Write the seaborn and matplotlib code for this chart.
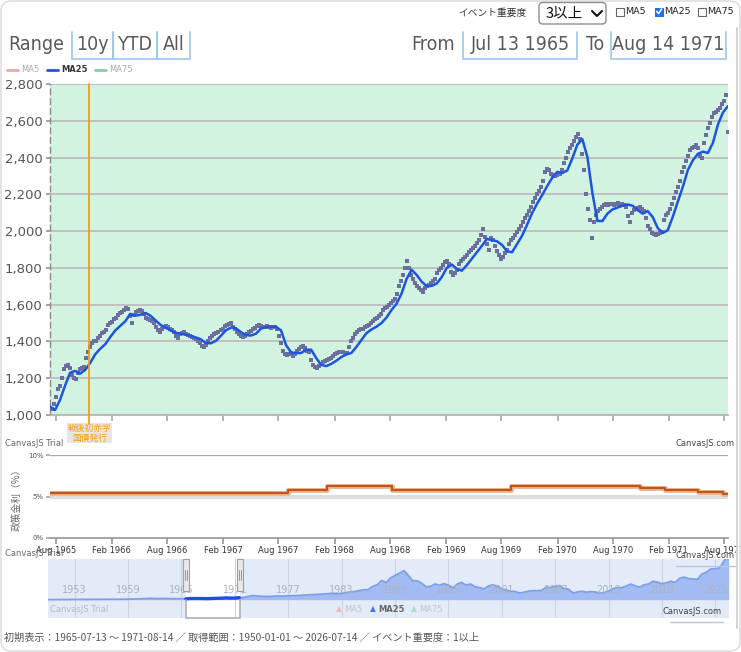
import numpy as np
import pandas as pd
import matplotlib
matplotlib.use("Agg")
import matplotlib.pyplot as plt
import matplotlib.dates as mdates
from matplotlib.patches import FancyBboxPatch, Rectangle
from matplotlib import font_manager as fm
import seaborn as sns

# ---------------- data ----------------
view_start = "1965-07-13"
view_end = "1971-08-14"
nav_start = "1950-01-01"
nav_end = "2026-07-14"

# daily close (read at ~6.5 day spacing)
price = [
    1040, 1035, 1060, 1100, 1140, 1160, 1200, 1250, 1265, 1270, 1255, 1220, 1200, 1195, 1230, 1250, 1255, 1260,
    1310, 1340, 1370, 1390, 1400, 1405, 1420, 1430, 1445, 1450, 1460, 1490, 1500, 1505, 1520, 1530, 1545, 1555,
    1560, 1570, 1580, 1575, 1540, 1500, 1545, 1560, 1565, 1570, 1565, 1550, 1530, 1520, 1515, 1510, 1500, 1480,
    1460, 1450, 1470, 1480, 1485, 1480, 1470, 1460, 1450, 1430, 1420, 1440, 1445, 1450, 1440, 1435, 1430, 1425,
    1420, 1415, 1400, 1390, 1375, 1370, 1380, 1400, 1420, 1430, 1440, 1445, 1450, 1460, 1470, 1485, 1490, 1495,
    1500, 1480, 1465, 1450, 1440, 1430, 1425, 1430, 1440, 1450, 1455, 1465, 1475, 1485, 1490, 1485, 1480, 1480,
    1485, 1480, 1475, 1480, 1478, 1470, 1430, 1390, 1350, 1330, 1325, 1330, 1335, 1320, 1330, 1350, 1360, 1370,
    1375, 1365, 1350, 1340, 1300, 1270, 1260, 1255, 1265, 1275, 1290, 1295, 1300, 1305, 1310, 1320, 1330, 1335,
    1340, 1345, 1340, 1330, 1335, 1370, 1400, 1420, 1440, 1450, 1460, 1465, 1470, 1480, 1485, 1490, 1500, 1510,
    1520, 1530, 1540, 1550, 1570, 1580, 1590, 1600, 1610, 1620, 1630, 1660, 1700, 1730, 1760, 1800, 1840, 1800,
    1760, 1740, 1720, 1700, 1690, 1680, 1670, 1690, 1700, 1705, 1720, 1730, 1740, 1770, 1790, 1800, 1815, 1830,
    1840, 1820, 1780, 1760, 1770, 1790, 1820, 1840, 1850, 1860, 1870, 1885, 1900, 1910, 1920, 1935, 1950, 1980,
    2010, 1970, 1930, 1900, 1960, 1950, 1920, 1890, 1870, 1850, 1860, 1880, 1900, 1930, 1950, 1960, 1980, 1995,
    2010, 2030, 2050, 2070, 2090, 2110, 2130, 2160, 2180, 2200, 2220, 2240, 2270, 2320, 2340, 2330, 2310, 2305,
    2300, 2305, 2310, 2330, 2370, 2400, 2430, 2450, 2470, 2490, 2510, 2530, 2500, 2420, 2330, 2200, 2120, 2060,
    1960, 2050, 2090, 2110, 2120, 2130, 2140, 2145, 2140, 2150, 2145, 2140, 2150, 2155, 2150, 2145, 2140, 2130,
    2080, 2050, 2100, 2115, 2120, 2125, 2130, 2120, 2110, 2070, 2030, 2010, 1990, 1985, 1980, 1985, 1990, 1995,
    2060, 2090, 2100, 2120, 2150, 2180, 2210, 2240, 2270, 2320, 2350, 2380, 2410, 2440, 2450, 2460, 2470, 2450,
    2410, 2400, 2480, 2520, 2560, 2590, 2620, 2640, 2650, 2660, 2670, 2690, 2710, 2740, 2540,
]

# 25-day moving average (read at ~16.4 day spacing)
ma25 = [
    1045, 1027, 1082, 1160, 1230, 1240, 1225, 1245, 1283, 1330,
    1360, 1385, 1424, 1460, 1485, 1510, 1550, 1540, 1545, 1555,
    1540, 1515, 1490, 1475, 1460, 1448, 1442, 1437, 1430, 1422,
    1412, 1392, 1390, 1403, 1430, 1460, 1475, 1472, 1451, 1435,
    1432, 1442, 1470, 1478, 1480, 1480, 1460, 1380, 1340, 1337,
    1337, 1355, 1355, 1310, 1272, 1266, 1278, 1295, 1315, 1330,
    1337, 1370, 1408, 1445, 1465, 1480, 1500, 1530, 1571, 1605,
    1660, 1740, 1790, 1762, 1725, 1701, 1702, 1715, 1750, 1800,
    1818, 1795, 1785, 1815, 1850, 1885, 1920, 1958, 1950, 1945,
    1925, 1890, 1885, 1930, 1975, 2035, 2098, 2150, 2196, 2245,
    2290, 2322, 2316, 2330, 2395, 2470, 2500, 2403, 2207, 2055,
    2055, 2095, 2118, 2128, 2138, 2145, 2138, 2115, 2095, 2109,
    2077, 2017, 1990, 2005, 2077, 2160, 2240, 2332, 2385, 2420,
    2432, 2425, 2480, 2580, 2645, 2680,
]

# policy rate (official discount rate, %)
rate_dates = ["1965-07-13", "1967-09-01", "1968-01-06", "1968-08-07", "1969-09-01",
              "1970-10-28", "1971-01-20", "1971-05-08", "1971-07-28", "1971-08-14"]
rate_values = [5.48, 5.84, 6.21, 5.84, 6.25, 6.00, 5.75, 5.50, 5.25, 5.25]

# event
event_date = "1965-11-19"
event_label = "戦後初赤字\n国債発行"

# navigator: whole history, half-yearly
nav_values = [
    100, 100, 110, 140, 170, 280, 340, 360, 320, 330,
    360, 380, 430, 480, 520, 520, 500, 580, 680, 830,
    900, 1150, 1400, 1800, 1450, 1400, 1500, 1450, 1250, 1250,
    1200, 1100, 1450, 1500, 1450, 1400, 1300, 1600, 1750, 1950,
    2300, 2050, 2100, 2600, 2800, 4200, 5200, 4700, 4300, 4200,
    4000, 4400, 4800, 4600, 5000, 5100, 5200, 5700, 6000, 6200,
    6600, 7000, 7200, 7700, 7600, 7300, 8200, 8900, 9900, 10400,
    11600, 12700, 13000, 17000, 19000, 24500, 22000, 27800, 31000, 34000,
    37000, 31000, 24000, 24000, 21000, 16500, 17000, 20000, 18500, 20500,
    18500, 15000, 20000, 22000, 18500, 20000, 16500, 15500, 13800, 17500,
    19000, 17000, 13500, 12500, 10500, 10500, 8500, 9500, 10800, 11500,
    11500, 11900, 16000, 15500, 17200, 18000, 14000, 13500, 8500, 9800,
    10700, 9500, 10300, 9800, 8500, 9000, 11000, 14000, 15500, 15300,
    17500, 20000, 17500, 16000, 19000, 20000, 23500, 22300, 20500, 21500,
    23500, 22000, 27500, 28800, 27000, 26500, 26000, 33000, 35000, 39500,
    39500, 40500, 50000, 55000,
]
nav_years = ["1953", "1959", "1965", "1971", "1977", "1983", "1989",
             "1995", "2001", "2007", "2013", "2019", "2025"]

ma_names = ["MA5", "MA25", "MA75"]
ma_colors = ["#f4a3a3", "#1d55e3", "#86d0a4"]
footer = "初期表示：1965-07-13 〜 1971-08-14 ／ 取得範囲：1950-01-01 〜 2026-07-14 ／ イベント重要度：1以上"

# ---------------- frames ----------------
t0, t1 = pd.Timestamp(view_start), pd.Timestamp(view_end)
df_price = pd.DataFrame({"date": pd.date_range(t0, t1, periods=len(price)), "v": price})
df_ma = pd.DataFrame({"date": pd.date_range(t0, t1, periods=len(ma25)), "v": ma25})
df_rate = pd.DataFrame({"date": pd.to_datetime(rate_dates), "v": rate_values})
df_nav = pd.DataFrame({"date": pd.date_range(nav_start, periods=len(nav_values), freq="6MS"), "v": nav_values})

# ---------------- style ----------------
sns.set_theme(style="white")
plt.rcParams["font.family"] = ["DejaVu Sans", "Noto Sans CJK JP"]
JP = ["Noto Sans CJK JP", "DejaVu Sans"]
names = {f.name for f in fm.fontManager.ttflist}
if "Liberation Sans Narrow" in names:
    BIG = dict(family="Liberation Sans Narrow", fontsize=17)
else:
    BIG = dict(family="DejaVu Sans", fontstretch="condensed", fontsize=14)

W, H = 741, 652
fig = plt.figure(figsize=(W / 100, H / 100), dpi=100)
fig.patch.set_facecolor("white")


def rect(x0, y0, x1, y1):
    return [x0 / W, 1 - y1 / H, (x1 - x0) / W, (y1 - y0) / H]


month_loc = mdates.MonthLocator(bymonth=[2, 8])

# ---------------- main chart ----------------
ax = fig.add_axes(rect(50, 84, 728, 415))
ax.set_facecolor("#d2f3e0")
sns.scatterplot(data=df_price, x="date", y="v", ax=ax, s=5, marker="s",
                color="#6c6e9e", linewidth=0, zorder=3)
sns.lineplot(data=df_ma, x="date", y="v", ax=ax, color="#1d55e3", lw=1.8, zorder=4)
ax.set_xlim(t0, t1)
ax.set_ylim(1000, 2800)
ax.set_yticks(range(1000, 2801, 200))
ax.set_yticklabels([f"{v:,}" for v in range(1000, 2801, 200)])
ax.yaxis.grid(True, color="#bdbdbd", lw=1.3)
ax.xaxis.grid(False)
ax.xaxis.set_major_locator(month_loc)
ax.set_xlabel("")
ax.set_ylabel("")
for s in ["top", "right"]:
    ax.spines[s].set_visible(False)
ax.spines["left"].set_color("#8a8a8a")
ax.spines["left"].set_linestyle((0, (4, 3)))
ax.spines["left"].set_linewidth(1)
ax.spines["bottom"].set_color("#b5b5b5")
ax.tick_params(axis="x", bottom=True, length=4, color="#aaaaaa", labelbottom=False)
ax.tick_params(axis="y", left=True, length=3, color="#999999", labelsize=9.5,
               labelcolor="#555555", pad=2.5)

ev = pd.Timestamp(event_date)
ax.plot([ev, ev], [2800, 951], color="#f59a00", lw=1.2, clip_on=False, zorder=5)
ax.text(ev, 950, event_label, ha="center", va="top", fontsize=6.3, color="#f5a000",
        family=JP, linespacing=1.05, clip_on=False,
        bbox=dict(fc="#e6e6e6", ec="none", pad=0.6))

# ---------------- policy rate chart ----------------
ax2 = fig.add_axes(rect(50, 455, 728, 538))
ax2.axhline(10, color="#aaaaaa", lw=1, zorder=1)
ax2.axhline(5, color="#dedede", lw=3, zorder=1)
sns.lineplot(data=df_rate, x="date", y="v", ax=ax2, drawstyle="steps-post",
             color="#eeb892", lw=3.6, zorder=3)
sns.lineplot(data=df_rate, x="date", y="v", ax=ax2, drawstyle="steps-post",
             color="#c0561a", lw=1.6, zorder=4)
ax2.set_xlim(t0, t1)
ax2.set_ylim(0, 10)
ax2.set_yticks([0, 5, 10])
ax2.set_yticklabels(["0%", "5%", "10%"])
ax2.grid(False)
ax2.set_xlabel("")
ax2.set_ylabel("")
for s in ["top", "right", "left"]:
    ax2.spines[s].set_visible(False)
ax2.spines["bottom"].set_color("#9a9a9a")
ax2.xaxis.set_major_locator(month_loc)
ax2.xaxis.set_major_formatter(mdates.DateFormatter("%b %Y"))
ax2.tick_params(axis="x", bottom=True, length=4, color="#9a9a9a", labelsize=6,
                labelcolor="#333333", pad=2)
ax2.tick_params(axis="y", left=True, length=3, color="#aaaaaa", labelsize=5,
                labelcolor="#555555", pad=1.5)
ax2.set_facecolor("white")

# ---------------- navigator ----------------
axn = fig.add_axes(rect(48, 559, 729, 618))
n0, n1 = pd.Timestamp(nav_start), pd.Timestamp(nav_end)
axn.set_xlim(n0, n1)
axn.set_ylim(-23400, 52000)
axn.set_facecolor("white")
axn.axvspan(n0, t0, color="#e2ebf7", lw=0, zorder=0)
axn.axvspan(t1, n1, color="#e2ebf7", lw=0, zorder=0)
for y in nav_years:
    d = pd.Timestamp(f"{y}-01-01")
    axn.axvline(d, color="#cbd5e4", lw=0.8, zorder=1)
    axn.text(d, 13000, y, ha="center", va="center", fontsize=7, color="#a9b3c1", zorder=6)
axn.fill_between(df_nav["date"], 0, df_nav["v"], color="#a2bbf2", lw=0, zorder=2)
sns.lineplot(data=df_nav, x="date", y="v", ax=axn, color="#7e9fec", lw=1.3, zorder=3)
sel = df_nav[(df_nav["date"] >= t0 - pd.Timedelta(days=183)) & (df_nav["date"] <= t1)]
sns.lineplot(data=sel, x="date", y="v", ax=axn, color="#1f4fe0", lw=2.4, zorder=4)
axn.plot([t0, t0, t1, t1], [0, -23400, -23400, 0], color="#b0b0b0", lw=1.2, zorder=5, clip_on=False)
axn.set_xticks([])
axn.set_yticks([])
axn.set_xlabel("")
axn.set_ylabel("")
for s in axn.spines.values():
    s.set_visible(False)

# ---------------- overlay (pixel coords) ----------------
ov = fig.add_axes([0, 0, 1, 1], zorder=10)
ov.set_xlim(0, W)
ov.set_ylim(H, 0)
ov.axis("off")

ov.add_patch(FancyBboxPatch((1, 1), W - 2, H - 2, boxstyle="round,pad=0,rounding_size=10",
                            fc="none", ec="#d9d9d9", lw=1))
ov.plot([737, 737], [28, 628], color="#d4d4d4", lw=1.4)

# top controls
ov.text(458, 13, "イベント重要度", fontsize=7, color="#333333", va="center", family=JP)
ov.add_patch(FancyBboxPatch((539, 2.5), 67, 21.5, boxstyle="round,pad=0,rounding_size=4",
                            fc="white", ec="#8f8f8f", lw=1))
ov.text(546, 13.5, "3以上", fontsize=10.5, color="#111111", va="center", family=JP)
ov.plot([592, 597, 602], [11, 16, 11], color="#111111", lw=1.5)
cb = [(616, ma_names[0], False), (655, ma_names[1], True), (698, ma_names[2], False)]
for x, lab, on in cb:
    ov.add_patch(Rectangle((x, 7.5), 8, 8, fc="#1a73e8" if on else "white",
                           ec="#1a73e8" if on else "#666666", lw=0.8))
    if on:
        ov.plot([x + 1.8, x + 3.6, x + 6.6], [11.5, 13.6, 9.0], color="white", lw=1.2)
    ov.text(x + 9, 12, lab, fontsize=6.8, color="#222222", va="center")

# range row
ov.text(8, 45, "Range", color="#5a5a5a", va="center", **BIG)
btn_col = "#9cc6ee"
for (x0, x1), lab in zip([(72, 113), (113, 157), (157, 190)], ["10y", "YTD", "All"]):
    ov.plot([x0, x0, x1, x1], [32, 59, 59, 32], color=btn_col, lw=1.2)
    ov.text((x0 + x1) / 2, 45, lab, color="#5a5a5a", ha="center", va="center", **BIG)
ov.text(411, 45, "From", color="#5a5a5a", va="center", **BIG)
ov.text(586, 45, "To", color="#5a5a5a", va="center", **BIG)
for (x0, x1), lab in zip([(463, 577), (611, 726)], ["Jul 13 1965", "Aug 14 1971"]):
    ov.plot([x0, x0, x1, x1], [32, 59, 59, 32], color=btn_col, lw=1.2)
    ov.text((x0 + x1) / 2, 45, lab, color="#5a5a5a", ha="center", va="center", **BIG)

# legend row
leg = [(7, ma_names[0], ma_colors[0], "#aaaaaa", "normal"),
       (47, ma_names[1], ma_colors[1], "#333333", "bold"),
       (95, ma_names[2], ma_colors[2], "#aaaaaa", "normal")]
for x, lab, c, tc, fw in leg:
    ov.plot([x, x + 11], [70, 70], color=c, lw=2)
    ov.text(x + 14, 70, lab, fontsize=6, color=tc, va="center", fontweight=fw)

# watermarks
ov.text(5, 443, "CanvasJS Trial", fontsize=6, color="#666666", va="center")
ov.text(735, 444, "CanvasJS.com", fontsize=6, color="#444444", va="center", ha="right")
ov.text(5, 554, "CanvasJS Trial", fontsize=6, color="#666666", va="center")
ov.text(735, 556, "CanvasJS.com", fontsize=6, color="#444444", va="center", ha="right")
ov.plot([676, 735], [566, 566], color="#b9c6e8", lw=1)
ov.text(50, 609, "CanvasJS Trial", fontsize=6, color="#b3bdca", va="center")
ov.text(722, 612, "CanvasJS.com", fontsize=6, color="#444444", va="center", ha="right")
ov.plot([670, 723], [622, 622], color="#b9c6e8", lw=1)

# y label of rate chart
ov.text(17, 497, "政策金利（%）", rotation=90, fontsize=7, color="#666666",
        ha="center", va="center", family=JP)

# navigator handles (placed on the navigator's own date scale)
for d in [t0, t1]:
    px = axn.transData.transform((mdates.date2num(d), 0))[0]
    ov.add_patch(Rectangle((px - 3, 559), 5.5, 32, fc="#e9e9e9", ec="#a0a0a0", lw=0.8))
    ov.plot([px - 1, px - 1], [570, 580], color="#8a8a8a", lw=0.6)
    ov.plot([px + 0.6, px + 0.6], [570, 580], color="#8a8a8a", lw=0.6)

# navigator legend
nl = [(336, ma_names[0], "#f2b8b8", "#c6c6c6", "normal"),
      (370, ma_names[1], "#4a78e6", "#666666", "bold"),
      (411, ma_names[2], "#a9dcc1", "#c6c6c6", "normal")]
for x, lab, c, tc, fw in nl:
    ov.text(x, 609, "▲", fontsize=5.5, color=c, va="center")
    ov.text(x + 8, 609, lab, fontsize=6, color=tc, va="center", fontweight=fw)

# footer
ov.text(4, 638, footer, fontsize=7.3, color="#555555", va="center", family=JP)

fig.savefig("out.png", dpi=100, facecolor="white")
